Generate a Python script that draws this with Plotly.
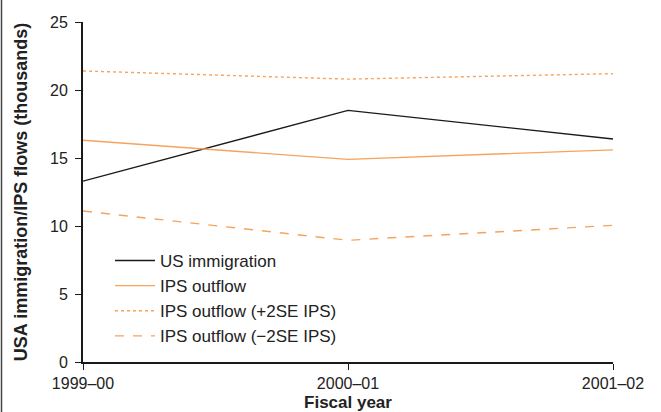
import plotly.graph_objects as go

years = ["1999–00", "2000–01", "2001–02"]
us_immigration = [13.3, 18.5, 16.4]
ips_outflow = [16.3, 14.9, 15.6]
ips_plus = [21.4, 20.8, 21.2]
ips_minus = [11.1, 8.95, 10.05]

orange = "#F7A35C"
font = "Liberation Sans Narrow, Arial Narrow, sans-serif"
x = list(range(len(years)))

fig = go.Figure()
fig.add_trace(go.Scatter(x=x, y=us_immigration, mode="lines", name="US immigration",
                         line=dict(color="#1a1a1a", width=1.4)))
fig.add_trace(go.Scatter(x=x, y=ips_outflow, mode="lines", name="IPS outflow",
                         line=dict(color=orange, width=1.4)))
fig.add_trace(go.Scatter(x=x, y=ips_plus, mode="lines", name="IPS outflow (+2SE IPS)",
                         line=dict(color=orange, width=1.4, dash="dot")))
fig.add_trace(go.Scatter(x=x, y=ips_minus, mode="lines", name="IPS outflow (\u22122SE IPS)",
                         line=dict(color=orange, width=1.4, dash="dash")))

L, R, T, B = 83, 48, 22, 50
W, H = 661, 412
pw, ph = W - L - R, H - T - B

fig.update_layout(
    width=W, height=H,
    margin=dict(l=L, r=R, t=T, b=B),
    paper_bgcolor="white", plot_bgcolor="white",
    font=dict(family=font, size=15, color="#222"),
    showlegend=True,
    legend=dict(x=(110 - L) / pw, y=(362 - 243) / ph, xanchor="left", yanchor="top",
                bgcolor="rgba(0,0,0,0)", font=dict(size=17, family=font),
                tracegroupgap=0, itemwidth=40),
    xaxis=dict(range=[0, 2], tickvals=x, ticktext=years, showgrid=False, zeroline=False,
               showline=True, linecolor="#1a1a1a", linewidth=2, ticks="outside",
               ticklen=6, tickcolor="#1a1a1a", tickwidth=1, automargin=False,
               tickfont=dict(size=16),
               title=dict(text="<b>Fiscal year</b>", font=dict(size=17), standoff=8)),
    yaxis=dict(range=[0, 25], tickvals=[0, 5, 10, 15, 20, 25], showgrid=False, zeroline=False,
               showline=True, linecolor="#1a1a1a", linewidth=2, ticks="outside",
               ticklen=6, tickcolor="#1a1a1a", tickwidth=1, automargin=False,
               ticklabelstandoff=4,
               tickfont=dict(size=16),
               title=dict(text="<b>USA immigration/IPS flows (thousands)</b>",
                          font=dict(size=18), standoff=18)),
)
fig.add_shape(type="line", xref="paper", yref="paper",
              x0=(1.5 - L) / pw, x1=(1.5 - L) / pw,
              y0=-B / ph, y1=1 + T / ph,
              line=dict(color="#444", width=1.5))

fig.write_html("out.html")
